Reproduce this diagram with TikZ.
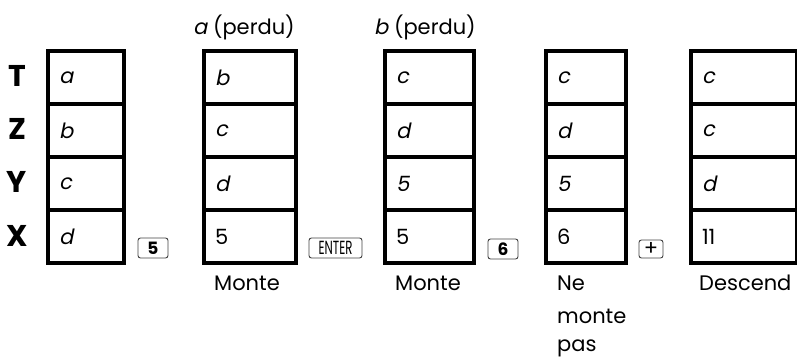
\documentclass[tikz,border=0pt]{standalone}
\usepackage{fontspec}
\setmainfont{Poppins}
\newfontfamily\slfont{Poppins}[FakeSlant=0.2]
\usetikzlibrary{positioning}
\begin{document}
\begin{tikzpicture}[x=1pt,y=-1pt,
  cell/.style={draw, line width=4pt, inner xsep=11pt, inner ysep=0pt,
    minimum height=53pt, anchor=north west, align=left, font=\fontsize{21}{24}\selectfont},
  reglabel/.style={font=\fontsize{30}{32}\bfseries\selectfont, anchor=center},
  keybox/.style={draw=black!75, line width=0.9pt, rounded corners=2.5pt, inner sep=0pt,
    minimum height=20pt, font=\fontsize{17}{17}\bfseries\selectfont},
  caption/.style={anchor=west, font=\fontsize{21}{24}\selectfont, inner sep=0pt}]
\useasboundingbox (0,0) rectangle (797,358);
% register labels
\node[reglabel] (lT) at (17,76) {T};
\node[reglabel] (lZ) at (17,129) {Z};
\node[reglabel] (lY) at (17,182) {Y};
\node[reglabel] (lX) at (17,236) {X};
% column 1
\foreach \r/\t [count=\i from 0] in {T/{\slfont a},Z/{\slfont b},Y/{\slfont c},X/{\slfont d}}{
  \node[cell, text width=54pt] (c1\r) at (46,49+53*\i) {\t};}
% column 2
\foreach \r/\t [count=\i from 0] in {T/{\slfont b},Z/{\slfont c},Y/{\slfont d},X/5}{
  \node[cell, text width=70pt] (c2\r) at (202,49+53*\i) {\t};}
% column 3
\foreach \r/\t [count=\i from 0] in {T/{\slfont c},Z/{\slfont d},Y/{\slfont 5},X/5}{
  \node[cell, text width=67pt] (c3\r) at (383,49+53*\i) {\t};}
% column 4
\foreach \r/\t [count=\i from 0] in {T/{\slfont c},Z/{\slfont d},Y/{\slfont 5},X/6}{
  \node[cell, text width=58pt] (c4\r) at (544,49+53*\i) {\t};}
% column 5
\foreach \r/\t [count=\i from 0] in {T/{\slfont c},Z/{\slfont c},Y/{\slfont d},X/11}{
  \node[cell, text width=84pt] (c5\r) at (689,49+53*\i) {\t};}
% keys
\node[keybox, minimum width=30pt] (k5) at (153,248) {5};
\node[keybox, minimum width=53pt, font=\fontsize{19}{19}\selectfont] (kent) at (335.5,248) {\scalebox{0.62}[1]{ENTER}};
\node[keybox, minimum width=30pt] (k6) at (503,249) {6};
\node[keybox, minimum width=24pt, minimum height=18pt, font=\fontsize{21}{21}\selectfont] (kplus) at (651,249) {+};
% headers
\node[caption] (ha) at (193,27) {{\slfont a} (perdu)};
\node[caption] (hb) at (374,27) {{\slfont b} (perdu)};
% captions
\node[caption] (m2) at (214,283) {Monte};
\node[caption] (m3) at (395,283) {Monte};
\node[caption] (m4a) at (557,283) {Ne};
\node[caption] (m4b) at (557,316) {monte};
\node[caption] (m4c) at (557,348) {pas};
\node[caption] (m5) at (699,283) {Descend};
\end{tikzpicture}
\end{document}
